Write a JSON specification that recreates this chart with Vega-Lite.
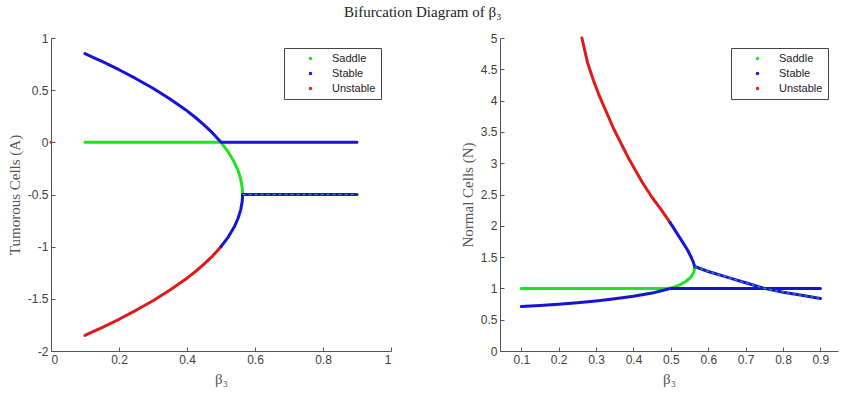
{
  "$schema": "https://vega.github.io/schema/vega-lite/v6.json",
  "padding": {"left": 7, "top": 5, "right": 1, "bottom": 2},
  "background": "white",
  "title": {"text": "Bifurcation Diagram of β₃", "font": "Liberation Serif", "fontSize": 15, "fontWeight": "normal", "color": "#222222", "anchor": "middle", "offset": 12},
  "datasets": {
    "left": [
      {"x": 0.1, "y": 0, "type": "Saddle", "seg": "L1", "i": 1},
      {"x": 0.5, "y": 0, "type": "Saddle", "seg": "L1", "i": 2},
      {"x": 0.52, "y": -0.086, "type": "Saddle", "seg": "L1", "i": 3},
      {"x": 0.54, "y": -0.196, "type": "Saddle", "seg": "L1", "i": 4},
      {"x": 0.55, "y": -0.27, "type": "Saddle", "seg": "L1", "i": 5},
      {"x": 0.558, "y": -0.353, "type": "Saddle", "seg": "L1", "i": 6},
      {"x": 0.5625, "y": -0.437, "type": "Saddle", "seg": "L1", "i": 7},
      {"x": 0.5635, "y": -0.5, "type": "Saddle", "seg": "L1", "i": 8},
      {"x": 0.1, "y": 0.85, "type": "Stable", "seg": "L2", "i": 1},
      {"x": 0.125, "y": 0.813, "type": "Stable", "seg": "L2", "i": 2},
      {"x": 0.15, "y": 0.775, "type": "Stable", "seg": "L2", "i": 3},
      {"x": 0.2, "y": 0.696, "type": "Stable", "seg": "L2", "i": 4},
      {"x": 0.25, "y": 0.61, "type": "Stable", "seg": "L2", "i": 5},
      {"x": 0.3, "y": 0.518, "type": "Stable", "seg": "L2", "i": 6},
      {"x": 0.35, "y": 0.416, "type": "Stable", "seg": "L2", "i": 7},
      {"x": 0.4, "y": 0.302, "type": "Stable", "seg": "L2", "i": 8},
      {"x": 0.425, "y": 0.238, "type": "Stable", "seg": "L2", "i": 9},
      {"x": 0.45, "y": 0.168, "type": "Stable", "seg": "L2", "i": 10},
      {"x": 0.475, "y": 0.09, "type": "Stable", "seg": "L2", "i": 11},
      {"x": 0.5, "y": 0, "type": "Stable", "seg": "L2", "i": 12},
      {"x": 0.9, "y": 0, "type": "Stable", "seg": "L2", "i": 13},
      {"x": 0.1, "y": -1.85, "type": "Unstable", "seg": "L3", "i": 1},
      {"x": 0.125, "y": -1.813, "type": "Unstable", "seg": "L3", "i": 2},
      {"x": 0.15, "y": -1.775, "type": "Unstable", "seg": "L3", "i": 3},
      {"x": 0.2, "y": -1.696, "type": "Unstable", "seg": "L3", "i": 4},
      {"x": 0.25, "y": -1.61, "type": "Unstable", "seg": "L3", "i": 5},
      {"x": 0.3, "y": -1.518, "type": "Unstable", "seg": "L3", "i": 6},
      {"x": 0.35, "y": -1.416, "type": "Unstable", "seg": "L3", "i": 7},
      {"x": 0.4, "y": -1.302, "type": "Unstable", "seg": "L3", "i": 8},
      {"x": 0.425, "y": -1.238, "type": "Unstable", "seg": "L3", "i": 9},
      {"x": 0.45, "y": -1.168, "type": "Unstable", "seg": "L3", "i": 10},
      {"x": 0.475, "y": -1.09, "type": "Unstable", "seg": "L3", "i": 11},
      {"x": 0.5, "y": -1.0, "type": "Unstable", "seg": "L3", "i": 12},
      {"x": 0.5, "y": -1.0, "type": "Stable", "seg": "L4", "i": 1},
      {"x": 0.52, "y": -0.914, "type": "Stable", "seg": "L4", "i": 2},
      {"x": 0.54, "y": -0.804, "type": "Stable", "seg": "L4", "i": 3},
      {"x": 0.55, "y": -0.73, "type": "Stable", "seg": "L4", "i": 4},
      {"x": 0.558, "y": -0.647, "type": "Stable", "seg": "L4", "i": 5},
      {"x": 0.5625, "y": -0.563, "type": "Stable", "seg": "L4", "i": 6},
      {"x": 0.5635, "y": -0.5, "type": "Stable", "seg": "L4", "i": 7},
      {"x": 0.5635, "y": -0.5, "type": "Stable", "seg": "L5", "i": 1},
      {"x": 0.9, "y": -0.5, "type": "Stable", "seg": "L5", "i": 2},
      {"x": 0, "y": 0, "type": "Unstable", "seg": "P", "i": 1}
    ],
    "right": [
      {"x": 0.1, "y": 1, "type": "Saddle", "seg": "R1", "i": 1},
      {"x": 0.495, "y": 1, "type": "Saddle", "seg": "R1", "i": 2},
      {"x": 0.51, "y": 1.025, "type": "Saddle", "seg": "R1", "i": 3},
      {"x": 0.525, "y": 1.06, "type": "Saddle", "seg": "R1", "i": 4},
      {"x": 0.54, "y": 1.11, "type": "Saddle", "seg": "R1", "i": 5},
      {"x": 0.552, "y": 1.17, "type": "Saddle", "seg": "R1", "i": 6},
      {"x": 0.558, "y": 1.22, "type": "Saddle", "seg": "R1", "i": 7},
      {"x": 0.562, "y": 1.27, "type": "Saddle", "seg": "R1", "i": 8},
      {"x": 0.5635, "y": 1.35, "type": "Saddle", "seg": "R1", "i": 9},
      {"x": 0.1, "y": 0.71, "type": "Stable", "seg": "R2", "i": 1},
      {"x": 0.15, "y": 0.725, "type": "Stable", "seg": "R2", "i": 2},
      {"x": 0.2, "y": 0.745, "type": "Stable", "seg": "R2", "i": 3},
      {"x": 0.25, "y": 0.77, "type": "Stable", "seg": "R2", "i": 4},
      {"x": 0.3, "y": 0.8, "type": "Stable", "seg": "R2", "i": 5},
      {"x": 0.35, "y": 0.835, "type": "Stable", "seg": "R2", "i": 6},
      {"x": 0.4, "y": 0.875, "type": "Stable", "seg": "R2", "i": 7},
      {"x": 0.45, "y": 0.925, "type": "Stable", "seg": "R2", "i": 8},
      {"x": 0.475, "y": 0.962, "type": "Stable", "seg": "R2", "i": 9},
      {"x": 0.5, "y": 1.0, "type": "Stable", "seg": "R2", "i": 10},
      {"x": 0.9, "y": 1.0, "type": "Stable", "seg": "R2", "i": 11},
      {"x": 0.262, "y": 5.0, "type": "Unstable", "seg": "R3", "i": 1},
      {"x": 0.277, "y": 4.61, "type": "Unstable", "seg": "R3", "i": 2},
      {"x": 0.293, "y": 4.32, "type": "Unstable", "seg": "R3", "i": 3},
      {"x": 0.309, "y": 4.07, "type": "Unstable", "seg": "R3", "i": 4},
      {"x": 0.347, "y": 3.55, "type": "Unstable", "seg": "R3", "i": 5},
      {"x": 0.385, "y": 3.1, "type": "Unstable", "seg": "R3", "i": 6},
      {"x": 0.423, "y": 2.7, "type": "Unstable", "seg": "R3", "i": 7},
      {"x": 0.449, "y": 2.46, "type": "Unstable", "seg": "R3", "i": 8},
      {"x": 0.475, "y": 2.25, "type": "Unstable", "seg": "R3", "i": 9},
      {"x": 0.498, "y": 2.05, "type": "Unstable", "seg": "R3", "i": 10},
      {"x": 0.498, "y": 2.05, "type": "Stable", "seg": "R4", "i": 1},
      {"x": 0.525, "y": 1.8, "type": "Stable", "seg": "R4", "i": 2},
      {"x": 0.545, "y": 1.61, "type": "Stable", "seg": "R4", "i": 3},
      {"x": 0.555, "y": 1.49, "type": "Stable", "seg": "R4", "i": 4},
      {"x": 0.56, "y": 1.42, "type": "Stable", "seg": "R4", "i": 5},
      {"x": 0.5635, "y": 1.35, "type": "Stable", "seg": "R4", "i": 6},
      {"x": 0.5635, "y": 1.35, "type": "Stable", "seg": "R5", "i": 1},
      {"x": 0.6, "y": 1.27, "type": "Stable", "seg": "R5", "i": 2},
      {"x": 0.65, "y": 1.18, "type": "Stable", "seg": "R5", "i": 3},
      {"x": 0.7, "y": 1.09, "type": "Stable", "seg": "R5", "i": 4},
      {"x": 0.75, "y": 1.0, "type": "Stable", "seg": "R5", "i": 5},
      {"x": 0.8, "y": 0.94, "type": "Stable", "seg": "R5", "i": 6},
      {"x": 0.85, "y": 0.89, "type": "Stable", "seg": "R5", "i": 7},
      {"x": 0.9, "y": 0.84, "type": "Stable", "seg": "R5", "i": 8}
    ]
  },
  "hconcat": [
    {
      "width": 340,
      "height": 313,
      "data": {"name": "left"},
      "encoding": {
        "x": {"field": "x", "type": "quantitative", "scale": {"domain": [0, 1], "nice": false, "zero": false}, "axis": {"values": [0, 0.2, 0.4, 0.6, 0.8, 1], "title": "β₃", "labelExpr": "format(datum.value, '~g')"}},
        "y": {"field": "y", "type": "quantitative", "scale": {"domain": [-2, 1], "nice": false, "zero": false}, "axis": {"values": [-2, -1.5, -1, -0.5, 0, 0.5, 1], "title": "Tumorous Cells (A)", "labelExpr": "replace(format(datum.value, '~g'), '\u2212', '-')"}}
      },
      "layer": [
        {
          "transform": [{"filter": "datum.seg != 'P'"}],
          "mark": {"type": "line", "strokeWidth": 3, "strokeCap": "round", "strokeJoin": "round"},
          "encoding": {
            "color": {"field": "type", "type": "nominal", "scale": {"domain": ["Saddle", "Stable", "Unstable"], "range": ["#22e022", "#1414d2", "#e01a1a"]}, "legend": {"title": null}},
            "detail": {"field": "seg"},
            "order": {"field": "i", "type": "quantitative"}
          }
        },
        {
          "transform": [{"filter": "datum.seg == 'L5'"}],
          "mark": {"type": "line", "strokeWidth": 1.2, "color": "#40c080", "strokeDash": [3, 3], "opacity": 0.8},
          "encoding": {
            "order": {"field": "i", "type": "quantitative"}
          }
        },
        {
          "transform": [{"filter": "datum.seg == 'P'"}],
          "mark": {"type": "point", "filled": true, "size": 8, "color": "#e01a1a", "opacity": 1},
          "encoding": {}
        }
      ]
    },
    {
      "width": 338,
      "height": 313,
      "data": {"name": "right"},
      "encoding": {
        "x": {"field": "x", "type": "quantitative", "scale": {"domain": [0.043, 0.947], "nice": false, "zero": false}, "axis": {"values": [0.1, 0.2, 0.3, 0.4, 0.5, 0.6, 0.7, 0.8, 0.9], "title": "β₃", "labelExpr": "format(datum.value, '~g')"}},
        "y": {"field": "y", "type": "quantitative", "scale": {"domain": [0, 5], "nice": false, "zero": false}, "axis": {"values": [0, 0.5, 1, 1.5, 2, 2.5, 3, 3.5, 4, 4.5, 5], "title": "Normal Cells (N)", "labelExpr": "format(datum.value, '~g')"}}
      },
      "layer": [
        {
          "mark": {"type": "line", "strokeWidth": 3, "strokeCap": "round", "strokeJoin": "round"},
          "encoding": {
            "color": {"field": "type", "type": "nominal", "scale": {"domain": ["Saddle", "Stable", "Unstable"], "range": ["#22e022", "#1414d2", "#e01a1a"]}, "legend": {"title": null}},
            "detail": {"field": "seg"},
            "order": {"field": "i", "type": "quantitative"}
          }
        },
        {
          "transform": [{"filter": "datum.seg == 'R5'"}],
          "mark": {"type": "line", "strokeWidth": 1.2, "color": "#40c080", "strokeDash": [3, 3], "opacity": 0.8},
          "encoding": {
            "order": {"field": "i", "type": "quantitative"}
          }
        }
      ]
    }
  ],
  "spacing": 68,
  "resolve": {"legend": {"color": "independent"}, "scale": {"color": "independent"}},
  "config": {
    "view": {"stroke": null},
    "axis": {
      "grid": false,
      "domainColor": "#555555",
      "tickColor": "#555555",
      "tickSize": -4,
      "labelPadding": 7,
      "labelFont": "Liberation Sans",
      "labelFontSize": 12,
      "labelColor": "#404040",
      "labelOverlap": false,
      "titleFont": "Liberation Serif",
      "titleFontSize": 15,
      "titleFontWeight": "normal",
      "titleColor": "#555555"
    },
    "axisY": {"titlePadding": 5},
    "axisX": {"titlePadding": 6},
    "legend": {
      "orient": "top-right",
      "offset": 10,
      "strokeColor": "#444444",
      "fillColor": "white",
      "padding": 5,
      "symbolOffset": 16,
      "labelOffset": 16,
      "labelFont": "Liberation Sans",
      "labelFontSize": 11,
      "labelColor": "#222222",
      "symbolType": "circle",
      "symbolSize": 4,
      "symbolStrokeWidth": 1.5,
      "rowPadding": 3
    }
  }
}
